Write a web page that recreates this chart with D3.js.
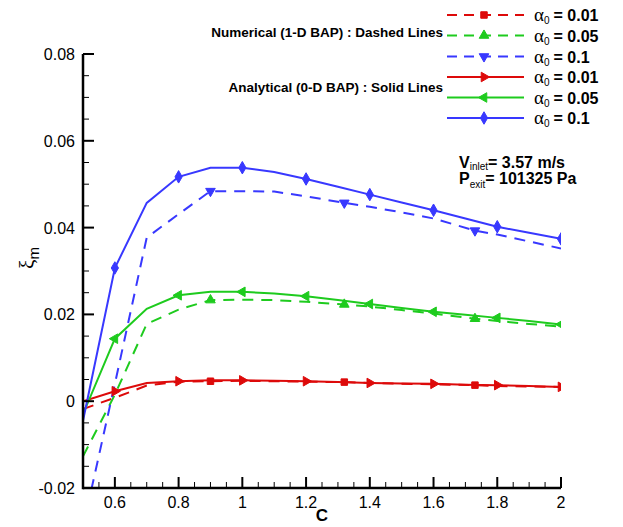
<!DOCTYPE html>
<html>
<head>
<meta charset="utf-8">
<script src="https://cdn.jsdelivr.net/npm/d3@7/dist/d3.min.js"></script>
<style>
  html, body { margin: 0; padding: 0; background: #fff; }
  svg { display: block; }
  text { font-family: Arial, "Liberation Sans", sans-serif; fill: #000; }
</style>
</head>
<body>
<div id="chart"></div>
<script>
// ---------------- data ----------------
// Analytical (0-D BAP) : solid lines
const anaC = [0.5, 0.6, 0.7, 0.8, 0.9, 1.0, 1.1, 1.2, 1.3, 1.4, 1.5, 1.6, 1.7, 1.8, 1.9, 2.0];
const anaRed   = [0.0000, 0.0023, 0.0042, 0.0046, 0.0048, 0.0048, 0.0047, 0.0046, 0.0044, 0.0042, 0.0041, 0.0040, 0.0038, 0.0037, 0.0035, 0.0033];
const anaGreen = [-0.0030, 0.0144, 0.0213, 0.0244, 0.0252, 0.0252, 0.0248, 0.0242, 0.0233, 0.0224, 0.0215, 0.0206, 0.0199, 0.0192, 0.0185, 0.0177];
const anaBlue  = [-0.0045, 0.0307, 0.0457, 0.0517, 0.0538, 0.0538, 0.0528, 0.0512, 0.0494, 0.0476, 0.0458, 0.0440, 0.0421, 0.0402, 0.0388, 0.0374];
const anaMarkIdx = [1, 3, 5, 7, 9, 11, 13, 15];

// Numerical (1-D BAP) : dashed lines
const numC = [0.5, 0.6, 0.7, 0.8, 0.9, 1.0, 1.1, 1.2, 1.32, 1.4, 1.5, 1.6, 1.73, 1.8, 1.9, 2.0];
const numRed   = [-0.0018, 0.0008, 0.0036, 0.0045, 0.0046, 0.0047, 0.0046, 0.0045, 0.0044, 0.0042, 0.0040, 0.0039, 0.0037, 0.0035, 0.0034, 0.0033];
const numGreen = [-0.0127, 0.0015, 0.0178, 0.0211, 0.0233, 0.0234, 0.0233, 0.0229, 0.0223, 0.0218, 0.0210, 0.0202, 0.0190, 0.0185, 0.0178, 0.0172];
const numBlue  = [-0.0290, 0.0040, 0.0377, 0.0431, 0.0484, 0.0484, 0.0483, 0.0472, 0.0457, 0.0448, 0.0435, 0.0421, 0.0393, 0.0384, 0.0368, 0.0352];
const numMarkIdx = [4, 8, 12];

const xTicks = [0.6, 0.8, 1, 1.2, 1.4, 1.6, 1.8, 2];
const xTickLabels = ["0.6", "0.8", "1", "1.2", "1.4", "1.6", "1.8", "2"];
const yTicks = [-0.02, 0, 0.02, 0.04, 0.06, 0.08];
const yTickLabels = ["-0.02", "0", "0.02", "0.04", "0.06", "0.08"];
const legendAlphas = ["0.01", "0.05", "0.1", "0.01", "0.05", "0.1"];

// ---------------- layout ----------------
const W = 623, H = 527;
const red = "#dd0a0a", green = "#1ecb1e", blue = "#3838ff";

const x = d3.scaleLinear().domain([0.5, 2]).range([83, 561]);
const y = d3.scaleLinear().domain([-0.02, 0.08]).range([488, 54]);

const svg = d3.select("#chart").append("svg").attr("width", W).attr("height", H);

svg.append("defs").append("clipPath").attr("id", "plotclip")
  .append("rect").attr("x", x(0.5)).attr("y", y(0.08)).attr("width", x(2) - x(0.5)).attr("height", y(-0.02) - y(0.08));

const series = [
  { cs: numC, vs: numRed,   color: red,   dash: "11,8", sym: d3.symbolSquare,   rot: 0,   size: 42, marks: numMarkIdx },
  { cs: numC, vs: numGreen, color: green, dash: "11,8", sym: d3.symbolTriangle, rot: 0,   size: 40, marks: numMarkIdx },
  { cs: numC, vs: numBlue,  color: blue,  dash: "11,8", sym: d3.symbolTriangle, rot: 180, size: 40, marks: numMarkIdx },
  { cs: anaC, vs: anaRed,   color: red,   dash: null,   sym: d3.symbolTriangle, rot: 90,  size: 40, marks: anaMarkIdx },
  { cs: anaC, vs: anaGreen, color: green, dash: null,   sym: d3.symbolTriangle, rot: -90, size: 40, marks: anaMarkIdx },
  { cs: anaC, vs: anaBlue,  color: blue,  dash: null,   sym: d3.symbolDiamond,  rot: 0,   size: 45, marks: anaMarkIdx }
];

const line = d3.line().x(d => x(d[0])).y(d => y(d[1]));
const plot = svg.append("g").attr("clip-path", "url(#plotclip)");

series.forEach(s => {
  const pts = s.cs.map((c, i) => [c, s.vs[i]]);
  plot.append("path").attr("d", line(pts))
    .attr("fill", "none").attr("stroke", s.color).attr("stroke-width", 2)
    .attr("stroke-dasharray", s.dash);
  s.marks.forEach(i => {
    plot.append("path")
      .attr("d", d3.symbol().type(s.sym).size(s.size)())
      .attr("transform", `translate(${x(s.cs[i])},${y(s.vs[i])}) rotate(${s.rot})`)
      .attr("fill", s.color).attr("stroke", s.color).attr("stroke-width", 1);
  });
});

// ---------------- axes ----------------
const axisG = svg.append("g").attr("stroke", "#000");
axisG.append("line").attr("x1", x(0.5)).attr("x2", x(2)).attr("y1", y(-0.02)).attr("y2", y(-0.02)).attr("stroke-width", 2.5);
axisG.append("line").attr("x1", x(0.5)).attr("x2", x(0.5)).attr("y1", y(-0.02) + 1.25).attr("y2", y(0.08)).attr("stroke-width", 2.5);

const xMinor = d3.range(0.55, 2.0001, 0.05).filter(v => !xTicks.some(t => Math.abs(t - v) < 1e-6));
const yMinor = d3.range(-0.015, 0.08, 0.005).filter(v => !yTicks.some(t => Math.abs(t - v) < 1e-9));

xTicks.forEach(t => axisG.append("line").attr("x1", x(t)).attr("x2", x(t)).attr("y1", y(-0.02)).attr("y2", y(-0.02) - 11).attr("stroke-width", 2));
xMinor.forEach(t => axisG.append("line").attr("x1", x(t)).attr("x2", x(t)).attr("y1", y(-0.02)).attr("y2", y(-0.02) - 6).attr("stroke-width", 1));
yTicks.forEach(t => axisG.append("line").attr("x1", x(0.5)).attr("x2", x(0.5) + 11).attr("y1", y(t)).attr("y2", y(t)).attr("stroke-width", 2));
yMinor.forEach(t => axisG.append("line").attr("x1", x(0.5)).attr("x2", x(0.5) + 6).attr("y1", y(t)).attr("y2", y(t)).attr("stroke-width", 1));

svg.append("g").selectAll("text").data(xTicks).join("text")
  .attr("x", d => x(d)).attr("y", y(-0.02) + 20).attr("text-anchor", "middle")
  .attr("font-size", 16).text((d, i) => xTickLabels[i]);
svg.append("g").selectAll("text").data(yTicks).join("text")
  .attr("x", 75).attr("y", d => y(d) + 6).attr("text-anchor", "end")
  .attr("font-size", 16).text((d, i) => yTickLabels[i]);

// axis titles
svg.append("text").attr("x", 322).attr("y", 521).attr("text-anchor", "middle")
  .attr("font-size", 17).attr("font-weight", "bold").text("C");
const yt = svg.append("text").attr("transform", "translate(34,258) rotate(-90)")
  .attr("text-anchor", "middle").attr("font-size", 21);
yt.append("tspan").attr("font-family", "'Liberation Serif', 'DejaVu Serif', serif").text("ξ");
yt.append("tspan").attr("font-size", 15).attr("dy", 5).text("m");

// ---------------- legend ----------------
const legRows = [15, 35.5, 56.5, 77, 97.5, 118];
const lg = svg.append("g");
series.forEach((s, i) => {
  const yy = legRows[i];
  lg.append("line").attr("x1", 447).attr("x2", 524).attr("y1", yy).attr("y2", yy)
    .attr("stroke", s.color).attr("stroke-width", 2)
    .attr("stroke-dasharray", s.dash ? "10,7" : null);
  lg.append("path").attr("d", d3.symbol().type(s.sym).size(s.size)())
    .attr("transform", `translate(484,${yy}) rotate(${s.rot})`)
    .attr("fill", s.color).attr("stroke", s.color).attr("stroke-width", 1);
  const t = lg.append("text").attr("x", 534).attr("y", yy + 6);
  t.append("tspan").attr("font-family", "'Liberation Serif', 'DejaVu Serif', serif").attr("font-size", 19).text("α");
  t.append("tspan").attr("font-size", 10).attr("dy", 3).text("0");
  t.append("tspan").attr("font-size", 16).attr("font-weight", "bold").attr("dy", -3).attr("dx", 4).text("= " + legendAlphas[i]);
});

lg.append("text").attr("x", 443).attr("y", 37).attr("text-anchor", "end")
  .attr("font-size", 13.5).attr("font-weight", "bold").text("Numerical (1-D BAP) : Dashed Lines");
lg.append("text").attr("x", 443).attr("y", 92).attr("text-anchor", "end")
  .attr("font-size", 13.5).attr("font-weight", "bold").text("Analytical (0-D BAP) : Solid Lines");

// ---------------- annotation ----------------
const a1 = svg.append("text").attr("x", 459).attr("y", 168).attr("font-size", 16).attr("font-weight", "bold");
a1.append("tspan").text("V");
a1.append("tspan").attr("font-size", 10).attr("font-weight", "normal").attr("dy", 2).text("inlet");
a1.append("tspan").attr("dy", -2).text("= 3.57 m/s");
const a2 = svg.append("text").attr("x", 459).attr("y", 184).attr("font-size", 16).attr("font-weight", "bold");
a2.append("tspan").text("P");
a2.append("tspan").attr("font-size", 10).attr("font-weight", "normal").attr("dy", 4).text("exit");
a2.append("tspan").attr("dy", -4).text("= 101325 Pa");
</script>
</body>
</html>
